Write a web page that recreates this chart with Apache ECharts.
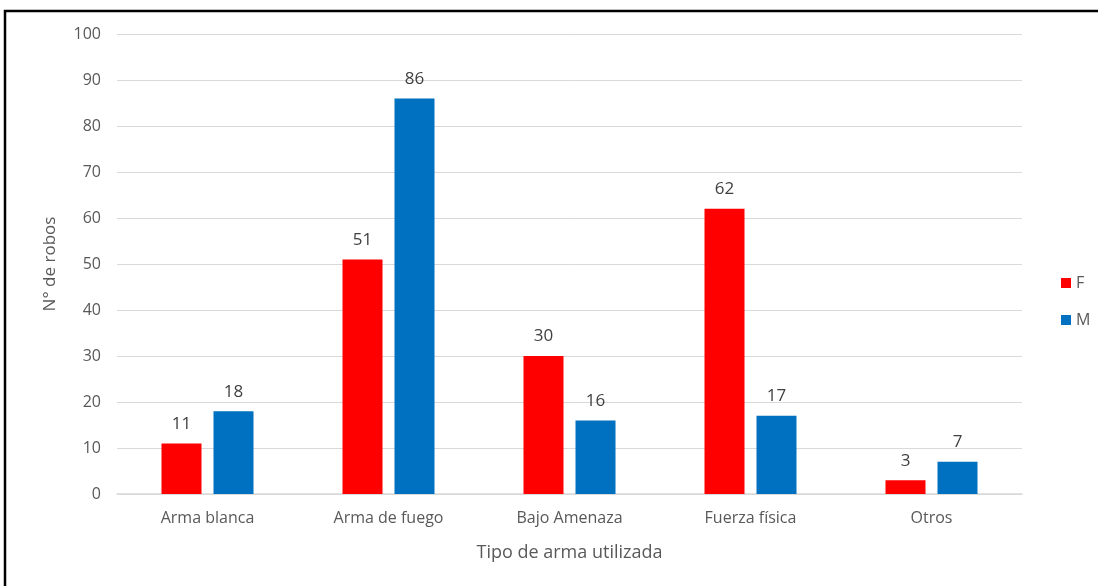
<!DOCTYPE html>
<html>
<head>
<meta charset="utf-8">
<script src="https://cdn.jsdelivr.net/npm/echarts@6/dist/echarts.min.js"></script>
<style>html,body{margin:0;padding:0;background:#fff;}#chart{width:1098px;height:586px;}</style>
</head>
<body>
<div id="chart"></div>
<script>
const categories = ['Arma blanca', 'Arma de fuego', 'Bajo Amenaza', 'Fuerza física', 'Otros'];
const seriesF = [11, 51, 30, 62, 3];
const seriesM = [18, 86, 16, 17, 7];
const seriesNames = ['F', 'M'];
const yTicks = { min: 0, max: 100, interval: 10 };

const font = '"Open Sans", sans-serif';
const chart = echarts.init(document.getElementById('chart'), null, { renderer: 'canvas' });
chart.setOption({
  backgroundColor: '#fff',
  animation: false,
  graphic: [{
    type: 'polyline',
    shape: { points: [[5, 600], [5, 11], [1110, 11]] },
    style: { stroke: '#000', lineWidth: 2.5, fill: null }
  }],
  grid: { left: 117, right: 76, top: 34, bottom: 92 },
  legend: {
    orient: 'vertical',
    left: 1056,
    top: 270,
    itemWidth: 10,
    itemHeight: 10,
    itemGap: 21,
    icon: 'rect',
    textStyle: { fontFamily: font, fontSize: 16, color: '#595959' },
    data: seriesNames
  },
  xAxis: {
    type: 'category',
    data: categories,
    name: 'Tipo de arma utilizada',
    nameLocation: 'middle',
    nameGap: 50,
    nameTextStyle: { fontFamily: font, fontSize: 18, color: '#595959' },
    axisLine: { lineStyle: { color: '#D9D9D9', width: 1.5 } },
    axisTick: { show: false },
    axisLabel: { fontFamily: font, fontSize: 16, color: '#595959', margin: 16 }
  },
  yAxis: {
    type: 'value',
    min: yTicks.min, max: yTicks.max, interval: yTicks.interval,
    name: 'N° de robos',
    nameLocation: 'middle',
    nameGap: 58,
    nameTextStyle: { fontFamily: font, fontSize: 17, color: '#595959' },
    axisLine: { show: false },
    axisTick: { show: false },
    axisLabel: { fontFamily: font, fontSize: 16, color: '#595959', margin: 16 },
    splitLine: { lineStyle: { color: '#D9D9D9', width: 1 } }
  },
  series: [
    {
      name: seriesNames[0], type: 'bar', data: seriesF,
      barWidth: 40, barGap: '30%',
      itemStyle: { color: '#FF0000' },
      label: { show: true, position: 'top', distance: 11, fontFamily: font, fontSize: 17, color: '#404040' }
    },
    {
      name: seriesNames[1], type: 'bar', data: seriesM,
      barWidth: 40,
      itemStyle: { color: '#0070C0' },
      label: { show: true, position: 'top', distance: 11, fontFamily: font, fontSize: 17, color: '#404040' }
    }
  ]
});
</script>
</body>
</html>
